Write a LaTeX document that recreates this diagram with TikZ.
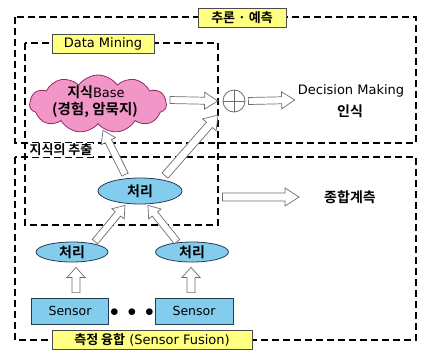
\documentclass[tikz,border=0pt]{standalone}
\usepackage{fontspec}
\setmainfont{DejaVu Sans}
\newfontfamily\kr{Noto Sans CJK KR}[BoldFont={Noto Sans CJK KR Bold}]
\usetikzlibrary{shapes.symbols,shapes.geometric,calc}
\definecolor{labelyellow}{RGB}{255,255,130}
\definecolor{cloudpink}{RGB}{242,150,200}
\definecolor{cloudedge}{RGB}{150,40,100}
\definecolor{procblue}{RGB}{130,205,238}
\definecolor{procedge}{RGB}{40,60,80}
\definecolor{arrowedge}{RGB}{110,110,110}
\tikzset{
  zone/.style={draw=black, line width=1.8pt, dash pattern=on 7pt off 4pt},
  tag/.style={draw=black!70, line width=0.8pt, fill=labelyellow, inner sep=2pt,
    minimum height=19pt, font=\fontsize{13}{14}\selectfont},
  proc/.style={ellipse, draw=procedge, line width=0.8pt, fill=procblue,
    inner sep=0pt, font=\kr\bfseries\fontsize{14}{15}\selectfont},
  sensorbox/.style={rectangle, draw=procedge, line width=0.8pt, fill=procblue,
    minimum width=77pt, minimum height=26pt, inner sep=0pt,
    font=\fontsize{12.5}{13}\selectfont},
  plain/.style={inner sep=0pt},
  blockarrow/.style={draw=arrowedge, line width=0.7pt, fill=white, line join=miter}
}
% hollow block arrow from #1 to #2; shaft half width #3, head half width #4, head length #5
\newcommand\hollowarrow[5]{%
  \coordinate (ha-base) at ($(#2)!#5!(#1)$);
  \draw[blockarrow]
    ($(#1)!#3!90:(#2)$) -- ($(ha-base)!#3!90:(#2)$) -- ($(ha-base)!#4!90:(#2)$)
    -- (#2) -- ($(ha-base)!#4!-90:(#2)$) -- ($(ha-base)!#3!-90:(#2)$)
    -- ($(#1)!#3!-90:(#2)$) -- cycle;}
\begin{document}
\begin{tikzpicture}[x=1pt, y=-1pt]
\useasboundingbox (0,0) rectangle (421,349);

% dashed zones
\draw[zone] (15,17) rectangle (416,143);
\draw[zone] (15,157) rectangle (416,340);
\draw[zone] (25,43) rectangle (218,225);

% zone captions
\node[tag, minimum width=88pt] (tagInfer) at (242,18) {\kr\bfseries 추론 · 예측};
\node[tag, minimum width=102pt] (tagMining) at (103,44) {Data Mining};
\node[tag, minimum width=200pt] (tagFusion) at (152,340) {{\kr\bfseries 측정 융합} (Sensor Fusion)};
\node[plain, fill=white, inner sep=1pt, font=\kr\bfseries\fontsize{13}{14}\selectfont] (extract) at (61,150) {지식의 추출};

% knowledge base cloud
\node[cloud, cloud puffs=11, cloud puff arc=110, aspect=2.4, draw=cloudedge,
  line width=0.8pt, fill=cloudpink, minimum width=137pt, minimum height=58pt,
  inner sep=0pt] (kb) at (98,104) {};
\node[plain, font=\fontsize{13}{14}\selectfont] (kbA) at (96,92) {{\kr\bfseries\fontsize{14}{15}\selectfont 지식}Base};
\node[plain, font=\kr\bfseries\fontsize{14.5}{15}\selectfont] (kbB) at (95,110) {(경험, 암묵지)};

% summing junction
\node[circle, draw=arrowedge, line width=0.8pt, minimum size=22pt, inner sep=0pt] (sum) at (234,101) {};
\draw[arrowedge, line width=0.8pt] (sum.north) -- (sum.south) (sum.west) -- (sum.east);

% outputs
\node[plain, font=\fontsize{13}{14}\selectfont] (decision) at (351,91) {Decision Making};
\node[plain, font=\kr\bfseries\fontsize{14}{15}\selectfont] (recog) at (350,111) {인식};
\node[plain, font=\kr\bfseries\fontsize{14}{15}\selectfont] (measure) at (350,197) {종합계측};

% processing nodes
\node[proc, minimum width=84pt, minimum height=26pt] (pTop) at (140,191) {처리};
\node[proc, minimum width=72pt, minimum height=20pt] (pLeft) at (72,252) {처리};
\node[proc, minimum width=73pt, minimum height=20pt] (pRight) at (192,252) {처리};

% sensors
\node[sensorbox] (sLeft) at (70,311) {Sensor};
\node[sensorbox, minimum width=78pt] (sRight) at (194,311) {Sensor};
\node[plain, font=\fontsize{16}{16}\selectfont] (dots) at (132,313) {$\bullet\ \bullet\ \bullet$};

% arrow end points
\coordinate (kbOut) at ($(kb.east)+(3,-4)$);
\coordinate (sumIn) at ($(sum.west)+(-5,0)$);
\coordinate (sumOut) at ($(sum.east)+(3,0)$);
\coordinate (decIn) at ($(decision.west)+(-3,9)$);
\coordinate (topOutR) at ($(pTop.north)+(25,-2)$);
\coordinate (sumInD) at ($(sum.south west)+(-8,6)$);
\coordinate (topOutL) at ($(pTop.north)+(-15,-3)$);
\coordinate (kbIn) at ($(kb.south)+(5,6)$);
\coordinate (topOutE) at ($(pTop.east)+(40,6)$);
\coordinate (measIn) at ($(measure.west)+(-25,0)$);
\coordinate (leftUp) at ($(pLeft.north)+(23,0)$);
\coordinate (topInL) at ($(pTop.south)+(-15,1)$);
\coordinate (rightUp) at ($(pRight.north)+(-15,0)$);
\coordinate (topInR) at ($(pTop.south)+(8,1)$);
\coordinate (sLeftOut) at ($(sLeft.north)+(6,-5)$);
\coordinate (pLeftIn) at ($(pLeft.south)+(4,5)$);
\coordinate (sRightOut) at ($(sRight.north)+(-3,-5)$);
\coordinate (pRightIn) at ($(pRight.south)+(-1,5)$);

% block arrows
\hollowarrow{kbOut}{sumIn}{3.5pt}{8.5pt}{13pt}
\hollowarrow{sumOut}{decIn}{3.5pt}{8.5pt}{13pt}
\hollowarrow{topOutR}{sumInD}{4pt}{9pt}{13pt}
\hollowarrow{topOutL}{kbIn}{3.5pt}{8pt}{12pt}
\hollowarrow{topOutE}{measIn}{4pt}{9pt}{14pt}
\hollowarrow{leftUp}{topInL}{3.5pt}{8pt}{11pt}
\hollowarrow{rightUp}{topInR}{3.5pt}{8pt}{11pt}
\hollowarrow{sLeftOut}{pLeftIn}{4pt}{9pt}{10pt}
\hollowarrow{sRightOut}{pRightIn}{4pt}{9pt}{10pt}
\end{tikzpicture}
\end{document}
